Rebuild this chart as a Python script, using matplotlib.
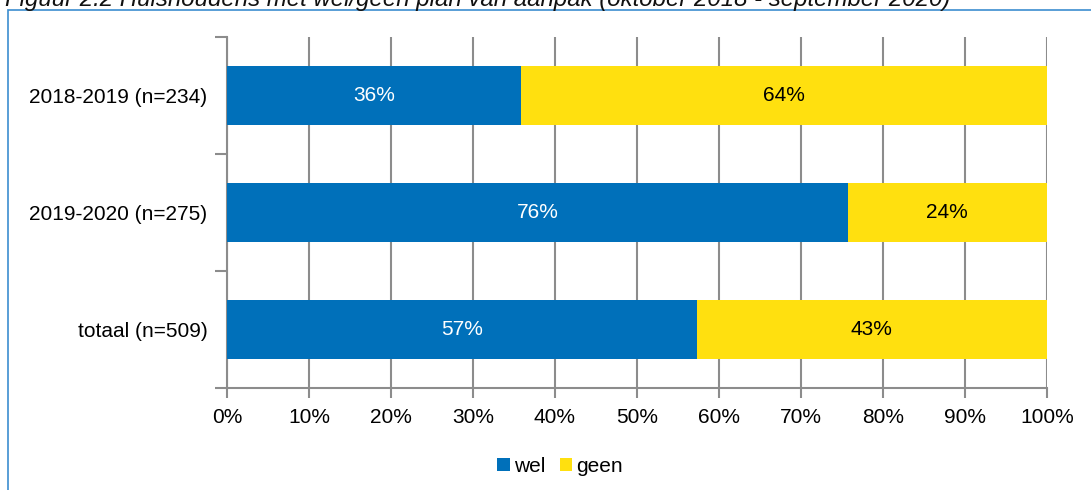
import matplotlib.pyplot as plt
from matplotlib.patches import Rectangle

plt.rcParams['font.family'] = ['Liberation Sans', 'DejaVu Sans']

# gegevens
categorieen = ['2018-2019 (n=234)', '2019-2020 (n=275)', 'totaal (n=509)']
wel = [35.9, 75.7, 57.3]
geen = [64.1, 24.3, 42.7]
wel_labels = ['36%', '76%', '57%']
geen_labels = ['64%', '24%', '43%']
x_ticks = [0, 10, 20, 30, 40, 50, 60, 70, 80, 90, 100]
x_labels = [f'{v}%' for v in x_ticks]

blauw = '#0070BA'
geel = '#FFE00F'
grijs = '#8C8C8C'

fig = plt.figure(figsize=(10.91, 4.90), dpi=100)

# titel (bovenkant valt buiten beeld, zoals in het origineel)
fig.text(0.005, 1 - 6 / 490, 'Figuur 2.2 Huishoudens met wel/geen plan van aanpak (oktober 2018 - september 2020)',
         fontsize=17.3, style='italic', ha='left', va='baseline', color='#111111')

# kader
fig.patches.append(Rectangle((8 / 1091, -0.1), 1.2, 1 - 10 / 490 + 0.1, transform=fig.transFigure,
                             fill=False, edgecolor='#3C8DD0', linewidth=1.2))

ax = fig.add_axes([227 / 1091, 1 - 388 / 490, 820 / 1091, 351 / 490])

y = list(range(len(categorieen)))
b1 = ax.barh(y, wel, height=0.5, color=blauw, label='wel', zorder=3)
b2 = ax.barh(y, geen, left=wel, height=0.5, color=geel, label='geen', zorder=3)

for i in y:
    ax.text(wel[i] / 2, i, wel_labels[i], ha='center', va='center', color='white', fontsize=15, zorder=4)
    ax.text(wel[i] + geen[i] / 2, i, geen_labels[i], ha='center', va='center', color='black', fontsize=15, zorder=4)

ax.set_xlim(0, 100)
ax.set_ylim(2.5, -0.5)
ax.set_xticks(x_ticks)
ax.set_xticklabels(x_labels, fontsize=15)
ax.set_yticks(y)
ax.set_yticklabels(categorieen, fontsize=15)
ax.set_yticks([-0.5, 0.5, 1.5, 2.5], minor=True)

ax.tick_params(axis='y', which='major', length=0, pad=14)
ax.tick_params(axis='y', which='minor', length=9, width=1.5, color=grijs, direction='out')
ax.tick_params(axis='x', length=7, width=1.5, color=grijs, pad=7.5)

ax.grid(axis='x', color=grijs, linewidth=1.5, zorder=0)
for s in ['top', 'right']:
    ax.spines[s].set_visible(False)
for s in ['left', 'bottom']:
    ax.spines[s].set_color(grijs)
    ax.spines[s].set_linewidth(1.5)

fig.legend(handles=[b1, b2], labels=['wel', 'geen'], loc='center', bbox_to_anchor=(560 / 1091, 1 - 466 / 490),
           ncol=2, frameon=False, fontsize=15, handlelength=0.6, handleheight=0.6,
           handletextpad=0.2, columnspacing=0.7)

fig.savefig('out.png', dpi=100)
